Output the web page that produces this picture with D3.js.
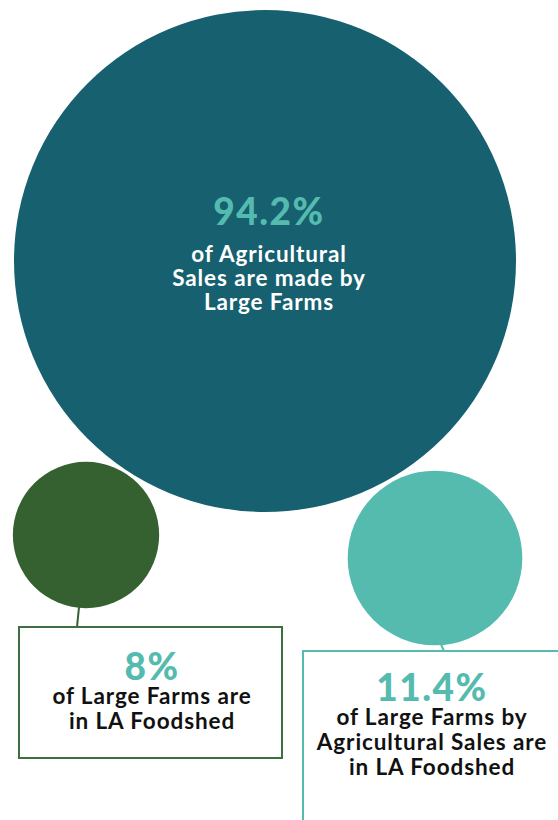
<!DOCTYPE html>
<html>
<head>
<meta charset="utf-8">
<script src="https://cdn.jsdelivr.net/npm/d3@7"></script>
<style>
  body { margin: 0; background: #fff; }
  svg { display: block; font-family: Lato, "Noto Sans", sans-serif; font-weight: 700; }
</style>
</head>
<body>
<svg id="chart"></svg>
<script>
// Constant Values
const width = 558;
const height = 820;

// Data
const labels = ["big", "large", "sales"];
const values = [94.2, 8, 11.4];
const valueText = ["94.2%", "8%", "11.4%"];
const captions = [
    ["of Agricultural", "Sales are made by", "Large Farms"],
    ["of Large Farms are", "in LA Foodshed"],
    ["of Large Farms by", "Agricultural Sales are", "in LA Foodshed"]
];
const colors = ["#17606f", "#356030", "#55bbaf"];

// Layout
const centers = [[265, 261], [86, 535], [435, 558]];
const boxes = [null, { x: 19, y: 627, w: 263, h: 131 }, { x: 303, y: 651, w: 270, h: 200 }];
const textPos = [[269, 225, 24, "#fff"], [152, 680, 25, "#111"], [432, 701, 25, "#111"]];

const svg = d3.select("#chart")
    .attr("width", width)
    .attr("height", height);

// Radius scale (area proportional to value)
const rScale = d3.scaleSqrt()
    .domain([0, d3.max(values)])
    .range([0, 251]);

const data = labels.map((l, i) => ({
    key: l, value: values[i], text: valueText[i], caption: captions[i],
    color: colors[i], c: centers[i], box: boxes[i], t: textPos[i]
}));

// Circles
svg.selectAll(".bubble")
    .data(data)
    .enter()
    .append("circle")
    .attr("class", "bubble")
    .attr("cx", d => d.c[0])
    .attr("cy", d => d.c[1])
    .attr("r", d => rScale(d.value))
    .attr("fill", d => d.color);

// Connectors and boxes
const boxed = data.filter(d => d.box);

svg.selectAll(".connector")
    .data(boxed)
    .enter()
    .append("line")
    .attr("class", "connector")
    .attr("x1", d => d.c[0] + (d.key === "sales" ? 6 : -7))
    .attr("y1", d => d.c[1] + rScale(d.value) - 1)
    .attr("x2", d => d.c[0] + (d.key === "sales" ? 9 : -9))
    .attr("y2", d => d.box.y)
    .attr("stroke", d => d.color)
    .attr("stroke-width", 2);

svg.selectAll(".box")
    .data(boxed)
    .enter()
    .append("rect")
    .attr("class", "box")
    .attr("x", d => d.box.x)
    .attr("y", d => d.box.y)
    .attr("width", d => d.box.w)
    .attr("height", d => d.box.h)
    .attr("fill", "#fff")
    .attr("stroke", d => d.color === "#356030" ? "#3f6e3f" : d.color)
    .attr("stroke-width", 2);

// Labels: one text block per bubble, percent then caption lines
const lab = svg.selectAll(".label")
    .data(data)
    .enter()
    .append("text")
    .attr("class", "label")
    .attr("text-anchor", "middle");

lab.append("tspan")
    .attr("x", d => d.t[0])
    .attr("y", d => d.t[1])
    .attr("font-size", 37)
    .attr("font-weight", 900)
    .attr("letter-spacing", 1.5)
    .attr("fill", "#55bbaf")
    .text(d => d.text);

lab.each(function (d) {
    d3.select(this).selectAll(".cap")
        .data(d.caption)
        .enter()
        .append("tspan")
        .attr("class", "cap")
        .attr("x", d.t[0])
        .attr("y", (s, i) => d.t[1] + (d.key === "big" ? 37 : 24) + i * d.t[2])
        .attr("font-size", 22.5)
        .attr("letter-spacing", 0.9)
        .attr("fill", d.t[3])
        .text(s => s);
});
</script>
</body>
</html>
